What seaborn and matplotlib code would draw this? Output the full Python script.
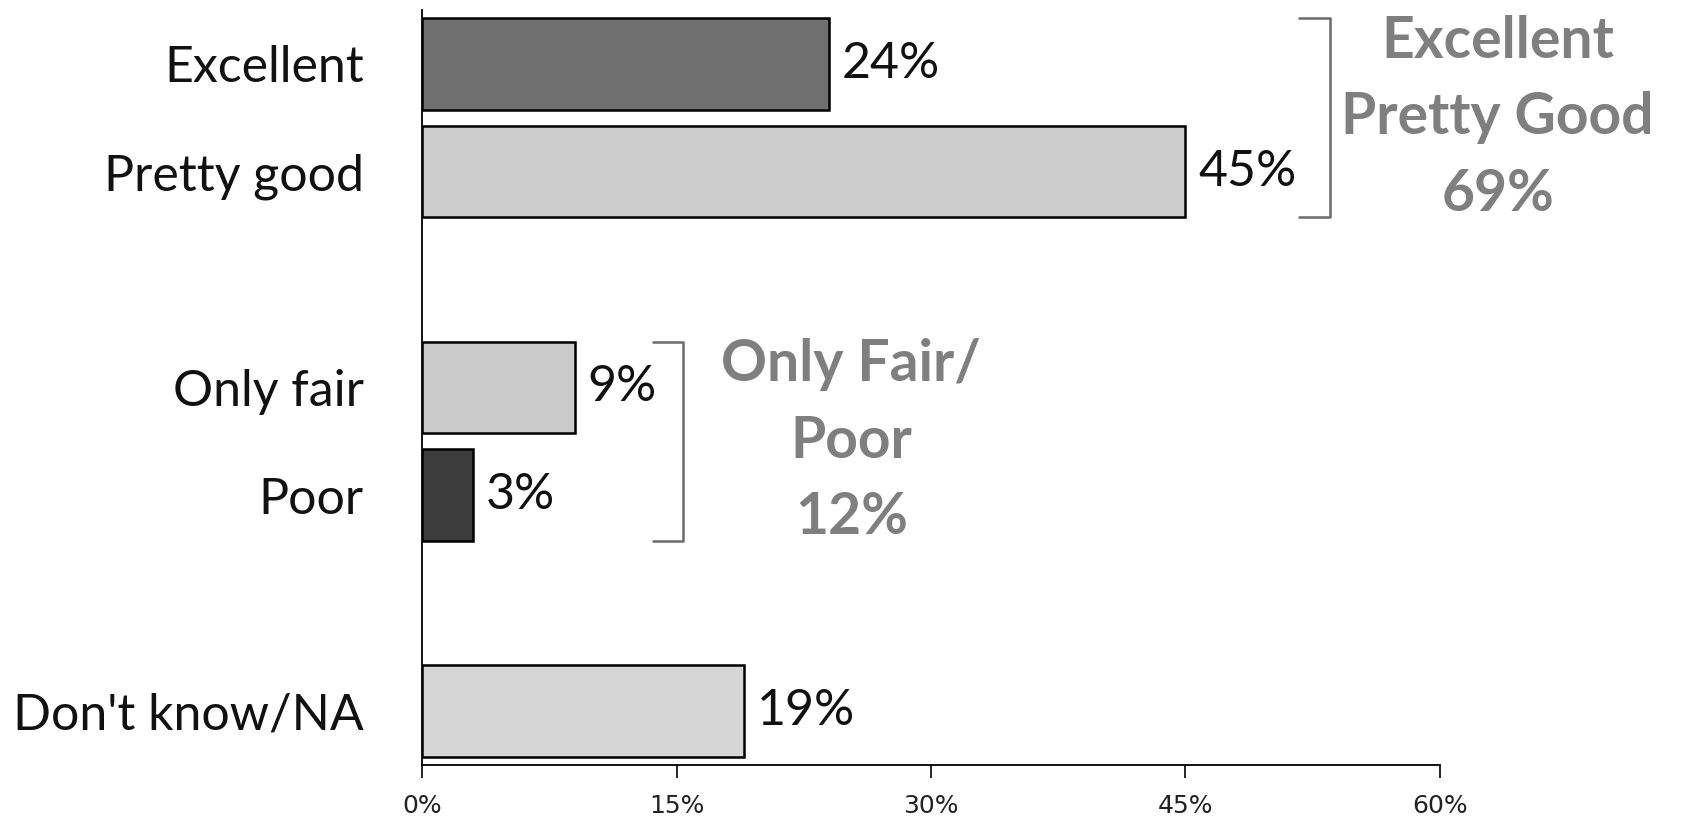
import pandas as pd
import seaborn as sns
import matplotlib.pyplot as plt

# data
categories = ["Excellent", "Pretty good", "Only fair", "Poor", "Don't know/NA"]
values = [24, 45, 9, 3, 19]
bar_colors = ["#707070", "#cdcdcd", "#cbcbcb", "#3c3c3c", "#d6d6d6"]
slot_order = ["Excellent", "Pretty good", " ", "Only fair", "Poor", "  ", "Don't know/NA"]
tick_values = [0, 15, 30, 45, 60]

group_labels = ["Excellent\nPretty Good\n69%", "Only Fair/\nPoor\n12%"]
group_members = [("Excellent", "Pretty good"), ("Only fair", "Poor")]

sns.set_theme(style="white")
plt.rcParams['font.family'] = ['Lato', 'DejaVu Sans']

df = pd.DataFrame({"category": categories, "value": values})
palette = dict(zip(categories, bar_colors))

fig = plt.figure(figsize=(16.84, 8.16), dpi=100)
ax = fig.add_axes([0.2506, 0.0625, 0.6045, 0.9255])

sns.barplot(data=df, x="value", y="category", hue="category", order=slot_order,
            palette=palette, orient="h", width=0.85, edgecolor="black",
            linewidth=1.8, legend=False, ax=ax, saturation=1)

ax.set_xlim(0, 60)
ax.set_ylim(len(slot_order) - 0.5, -0.5)
ax.set_xticks(tick_values)
ax.set_xticklabels([f"{t}%" for t in tick_values], fontsize=18, color="#222222",
                   family=['Liberation Sans Narrow', 'DejaVu Sans'])
ax.set_xlabel("")
ax.set_ylabel("")
ax.tick_params(axis="x", direction="out", length=9, width=1.2, color="black", pad=12, bottom=True)
ax.tick_params(axis="y", length=0, pad=42, labelsize=36, labelcolor="#111111")

for side in ["top", "right"]:
    ax.spines[side].set_visible(False)
for side in ["left", "bottom"]:
    ax.spines[side].set_color("black")
    ax.spines[side].set_linewidth(1.3)

# value labels
for cat, val in zip(categories, values):
    pos = slot_order.index(cat)
    ax.annotate(f"{val}%", xy=(val, pos), xytext=(9, 0), textcoords="offset points",
                ha="left", va="center", fontsize=36, color="#111111")

# brackets and group totals
half = 0.85 / 2
bracket_gap = [6.7, 4.6]
for label, (first, last), gap in zip(group_labels, group_members, bracket_gap):
    top = slot_order.index(first) - half
    bottom = slot_order.index(last) + half
    vals = [values[categories.index(first)], values[categories.index(last)]]
    x0 = max(vals) + gap
    x1 = x0 + 1.8
    ax.plot([x0, x1, x1, x0], [top, top, bottom, bottom], color="#6a6a6a",
            linewidth=1.8, clip_on=False)
    ax.text(x1 + 9.9, (top + bottom) / 2, label,
            ha="center", va="center", fontsize=41, fontweight="bold",
            color="#7f7f7f", linespacing=1.55, clip_on=False)

fig.savefig("out.png", dpi=100)
